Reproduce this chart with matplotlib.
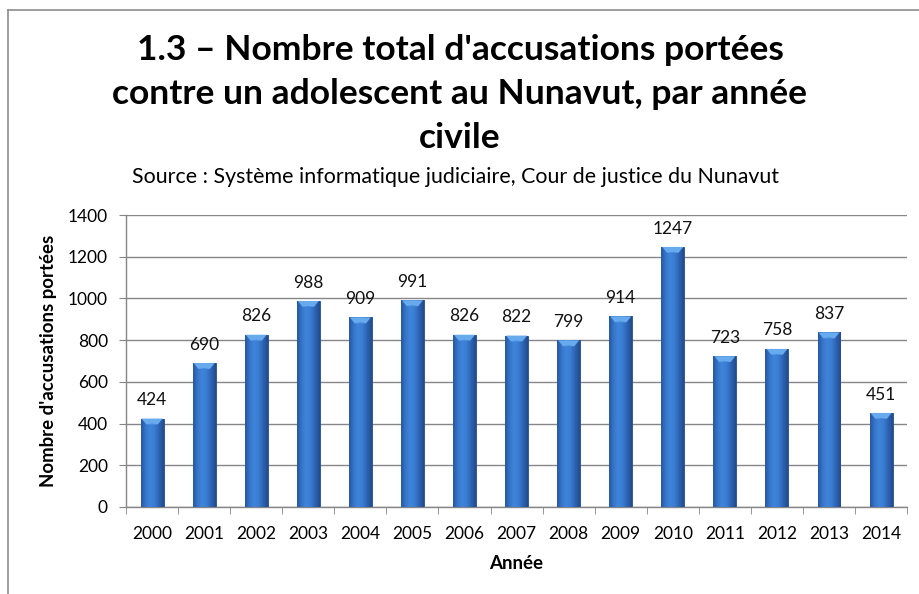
import matplotlib
matplotlib.use("Agg")
import matplotlib.pyplot as plt
import numpy as np
from matplotlib.colors import LinearSegmentedColormap
from matplotlib.patches import Polygon

years = ["2000", "2001", "2002", "2003", "2004", "2005", "2006", "2007",
         "2008", "2009", "2010", "2011", "2012", "2013", "2014"]
values = [424, 690, 826, 988, 909, 991, 826, 822, 799, 914, 1247, 723, 758, 837, 451]
yticks = [0, 200, 400, 600, 800, 1000, 1200, 1400]

title_lines = ["1.3 – Nombre total d'accusations portées",
               "contre un adolescent au Nunavut, par année",
               "civile"]
subtitle = "Source : Système informatique judiciaire, Cour de justice du Nunavut"
ylabel = "Nombre d'accusations portées"
xlabel = "Année"

plt.rcParams['font.family'] = ['Lato', 'DejaVu Sans']

fig = plt.figure(figsize=(9.2, 5.94), dpi=100)
# outer border (left and top visible)
fig.add_artist(plt.Line2D([0.009, 0.009], [0.0, 0.983], color="#8c8c8c", lw=1.2))
fig.add_artist(plt.Line2D([0.009, 1.0], [0.983, 0.983], color="#8c8c8c", lw=1.2))

ax = fig.add_axes([0.137, 0.1465, 0.849, 0.4915])
x = np.arange(len(years))
bars = ax.bar(x, values, width=0.44, color="#2f6cc0", zorder=2)

cmap = LinearSegmentedColormap.from_list(
    "cyl", ["#26589f", "#3675ca", "#4085da", "#3a7cd1", "#2d63b3", "#234b8c"])
grad = np.linspace(0, 1, 64).reshape(1, -1)
for r in bars:
    bx, bw, bh = r.get_x(), r.get_width(), r.get_height()
    im = ax.imshow(grad, extent=[bx, bx + bw, 0, bh], cmap=cmap,
                   aspect="auto", zorder=3, interpolation="bicubic")
    im.set_clip_path(r)
    dh = 28
    poly = Polygon([[bx + 0.04 * bw, bh], [bx + 0.96 * bw, bh],
                    [bx + 0.75 * bw, bh - dh], [bx + 0.25 * bw, bh - dh]],
                   closed=True, facecolor="#67aaee", edgecolor="none", zorder=4)
    ax.add_patch(poly)
    poly2 = Polygon([[bx + 0.5 * bw, bh - dh * 0.85], [bx + 0.25 * bw, bh - dh],
                     [bx + 0.75 * bw, bh - dh]],
                    closed=True, facecolor="#4085da", edgecolor="none", zorder=4)
    ax.add_patch(poly2)
    r.set_edgecolor("#1f4d8f")
    r.set_linewidth(0.6)

for xi, v in zip(x, values):
    ax.annotate(str(v), (xi, v), xytext=(0, 7.5), textcoords="offset points",
                ha="center", va="bottom", fontsize=12.5, color="#111111", zorder=5)

ax.set_xlim(-0.5, len(years) - 0.5)
ax.set_ylim(0, 1400)
ax.set_yticks(yticks)
ax.set_yticklabels([str(t) for t in yticks], fontsize=12.5)
ax.set_xticks(x)
ax.set_xticklabels(years, fontsize=12.5)
ax.set_xticks(np.arange(len(years) + 1) - 0.5, minor=True)
ax.tick_params(axis="x", which="major", length=0, pad=14)
ax.tick_params(axis="x", which="minor", length=5, color="#868686", direction="out")
ax.tick_params(axis="y", length=5, color="#868686", pad=8)
ax.grid(axis="y", color="#868686", lw=1.0, zorder=0)
ax.set_axisbelow(True)
for s in ["top", "right"]:
    ax.spines[s].set_visible(False)
for s in ["left", "bottom"]:
    ax.spines[s].set_color("#868686")
    ax.spines[s].set_linewidth(1.0)

ax.set_ylabel(ylabel, fontsize=13.4, fontweight="bold")
ax.yaxis.set_label_coords(-0.0885, 0.5)
ax.set_xlabel(xlabel, fontsize=13.5, fontweight="bold", labelpad=9)

for yy, line in zip([0.899, 0.825, 0.751], title_lines):
    fig.text(0.5, yy, line, ha="center", va="baseline", fontsize=25.5,
             fontweight="bold")
fig.text(0.495, 0.692, subtitle, ha="center", va="baseline", fontsize=15.4)

fig.savefig("out.png", dpi=100)
